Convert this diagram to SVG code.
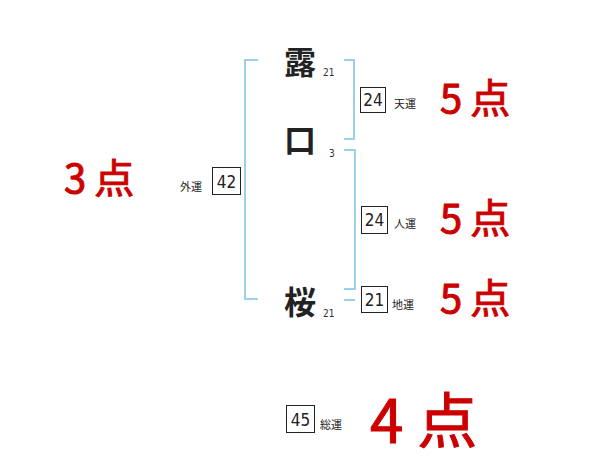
<svg xmlns="http://www.w3.org/2000/svg" width="600" height="470" viewBox="0 0 600 470">
<style>
.br{fill:none;stroke:#9ccfe8;stroke-width:2}
.kanji{font-family:"Noto Sans CJK JP","Noto Sans CJK SC",sans-serif;font-size:32px;fill:#222;text-anchor:middle;font-weight:bold}
.sub{font-family:"Liberation Sans Narrow","DejaVu Sans Condensed",sans-serif;font-size:10px;fill:#333}
.box{fill:#fff;stroke:#222;stroke-width:1}
.num{font-family:"Liberation Sans Narrow","DejaVu Sans Condensed",sans-serif;font-size:17px;fill:#222;text-anchor:middle}
.lbl{font-family:"Noto Sans CJK JP",sans-serif;font-size:11px;fill:#222}
.pt{font-family:"Noto Sans CJK JP","Noto Sans CJK SC",sans-serif;fill:#cc0000;stroke:#cc0000;stroke-width:1;font-weight:normal}
</style>
<rect width="600" height="470" fill="#fff"/>
<g id="connectors">
<path class="br" d="M258,60 H245 V299 H258"/>
<path class="br" d="M344,60 H354 V139 H344"/>
<path class="br" d="M344,150 H355 V289 H344"/>
<path class="br" d="M344,300 H355"/>
</g>
<g id="char1"><text class="kanji" x="300" y="74">露</text><text class="sub" x="323" y="76">21</text></g>
<g id="char2"><text class="kanji" x="300" y="152">口</text><text class="sub" x="329" y="157">3</text></g>
<g id="char3"><text class="kanji" x="300" y="314">桜</text><text class="sub" x="323" y="317">21</text></g>
<g id="tenun"><rect class="box" x="360.5" y="87.5" width="25" height="25"/><text class="num" x="373" y="106">24</text><text class="lbl" x="394" y="108">天運</text></g>
<g id="jinun"><rect class="box" x="361.5" y="206.5" width="26" height="27"/><text class="num" x="374.5" y="226">24</text><text class="lbl" x="394" y="228">人運</text></g>
<g id="chiun"><rect class="box" x="361.5" y="286.5" width="26" height="26"/><text class="num" x="374.5" y="306">21</text><text class="lbl" x="392" y="309">地運</text></g>
<g id="gaiun"><text class="lbl" x="180" y="191">外運</text><rect class="box" x="212.5" y="167.5" width="28" height="27"/><text class="num" x="226.5" y="188">42</text></g>
<g id="souun"><rect class="box" x="286.5" y="405.5" width="28" height="27"/><text class="num" x="300.5" y="426">45</text><text class="lbl" x="320" y="429">総運</text></g>
<g id="score-gai"><text class="pt" x="64" y="193" font-size="40" letter-spacing="8">3点</text></g>
<g id="score-ten"><text class="pt" x="440" y="113" font-size="40" letter-spacing="8">5点</text></g>
<g id="score-jin"><text class="pt" x="440" y="233" font-size="40" letter-spacing="8">5点</text></g>
<g id="score-chi"><text class="pt" x="440" y="313" font-size="40" letter-spacing="8">5点</text></g>
<g id="score-sou"><text class="pt" x="370" y="443" font-size="60" letter-spacing="14">4点</text></g>
</svg>
